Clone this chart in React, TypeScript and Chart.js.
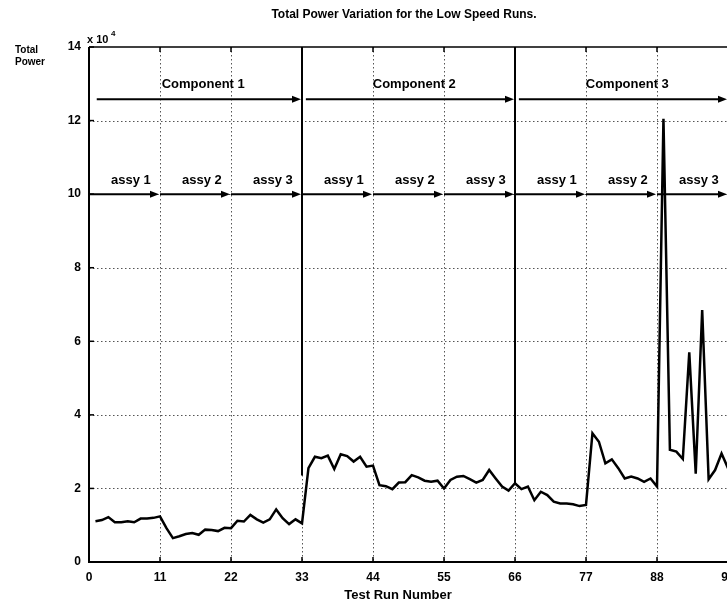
import React, { useEffect, useRef } from 'react';
import { Chart, registerables } from 'chart.js';

Chart.register(...registerables);

// ---- data (Total power, units of 1e4) ----
const runNumbers = [
  1, 2, 3, 4, 5, 6, 7, 8, 9, 10, 11, 12, 13, 14, 15, 16, 17, 18, 19, 20,
  21, 22, 23, 24, 25, 26, 27, 28, 29, 30, 31, 32, 33, 34, 35, 36, 37, 38, 39, 40,
  41, 42, 43, 44, 45, 46, 47, 48, 49, 50, 51, 52, 53, 54, 55, 56, 57, 58, 59, 60,
  61, 62, 63, 64, 65, 66, 67, 68, 69, 70, 71, 72, 73, 74, 75, 76, 77, 78, 79, 80,
  81, 82, 83, 84, 85, 86, 87, 88, 89, 90, 91, 92, 93, 94, 95, 96, 97, 98, 99,
];
const totalPower = [
  1.11, 1.14, 1.22, 1.08, 1.08, 1.11, 1.08, 1.18, 1.18, 1.2, 1.24, 0.92, 0.65, 0.7, 0.76, 0.79, 0.74, 0.88, 0.87, 0.84,
  0.93, 0.92, 1.12, 1.1, 1.28, 1.16, 1.07, 1.16, 1.43, 1.19, 1.03, 1.16, 1.05, 2.55, 2.86, 2.82, 2.89, 2.53, 2.93, 2.88,
  2.73, 2.86, 2.59, 2.62, 2.09, 2.06, 1.98, 2.16, 2.17, 2.36, 2.3, 2.21, 2.18, 2.21, 2.0, 2.23, 2.32, 2.34, 2.25, 2.16,
  2.23, 2.5, 2.27, 2.05, 1.94, 2.14, 1.98, 2.05, 1.68, 1.91, 1.82, 1.64, 1.59, 1.59, 1.57, 1.52, 1.55, 3.5, 3.27, 2.68,
  2.79, 2.55, 2.27, 2.32, 2.27, 2.18, 2.27, 2.05, 12.05, 3.05, 3.0, 2.8, 5.7, 2.4, 6.85, 2.25, 2.5, 2.95, 2.55,
];
const xTicks = [0, 11, 22, 33, 44, 55, 66, 77, 88, 99];
const yTicks = [0, 2, 4, 6, 8, 10, 12, 14];

const titleText = 'Total Power Variation for the Low Speed Runs.';
const xLabelText = 'Test Run Number';
const yLabelLines = ['Total', 'Power'];

// component annotation (runs)
const componentLabels = ['Component 1', 'Component 2', 'Component 3'];
const componentStarts = [1.2, 33.6, 66.6];
const componentEnds = [33, 66, 99];
const componentLevel = 12.58;
const componentLabelLevel = 12.97;

// assembly annotation (runs)
const assyLabels = ['assy 1', 'assy 2', 'assy 3', 'assy 1', 'assy 2', 'assy 3', 'assy 1', 'assy 2', 'assy 3'];
const assyStarts = [0, 11, 22, 33, 44, 55, 66, 77, 88];
const assyEnds = [11, 22, 33, 44, 55, 66, 77, 88, 99];
const assyLevel = 10;
const assyLabelLevel = 10.38;

// component separators (run, lower end of line)
const separatorRuns = [33, 66];
const separatorBottoms = [2.35, 2.15];

const FONT = "'Liberation Sans', Arial, Helvetica, sans-serif";

function arrow(ctx: CanvasRenderingContext2D, x1: number, x2: number, y: number) {
  ctx.beginPath();
  ctx.moveTo(x1, y);
  ctx.lineTo(x2 - 6, y);
  ctx.stroke();
  ctx.beginPath();
  ctx.moveTo(x2, y);
  ctx.lineTo(x2 - 9, y - 3.5);
  ctx.lineTo(x2 - 9, y + 3.5);
  ctx.closePath();
  ctx.fill();
}

const decor = {
  id: 'decor',
  beforeDatasetsDraw(chart: any) {
    const { ctx, chartArea: a, scales } = chart;
    const xs = scales.x;
    const ys = scales.y;
    ctx.save();
    // dotted grid
    ctx.strokeStyle = '#555';
    ctx.lineWidth = 1;
    ctx.setLineDash([1.5, 2.5]);
    xTicks.forEach((t) => {
      if (t <= 0 || t >= 99) return;
      const px = Math.round(xs.getPixelForValue(t)) + 0.5;
      ctx.beginPath();
      ctx.moveTo(px, a.top);
      ctx.lineTo(px, a.bottom);
      ctx.stroke();
    });
    yTicks.forEach((t) => {
      if (t <= 0 || t >= 14) return;
      const py = Math.round(ys.getPixelForValue(t)) + 0.5;
      ctx.beginPath();
      ctx.moveTo(a.left, py);
      ctx.lineTo(a.right, py);
      ctx.stroke();
    });
    ctx.setLineDash([]);

    // separators
    ctx.strokeStyle = '#000';
    ctx.lineWidth = 2;
    separatorRuns.forEach((r, i) => {
      const px = xs.getPixelForValue(r);
      ctx.beginPath();
      ctx.moveTo(px, a.top);
      ctx.lineTo(px, ys.getPixelForValue(separatorBottoms[i]));
      ctx.stroke();
    });

    // arrows
    ctx.fillStyle = '#000';
    ctx.lineWidth = 2;
    componentLabels.forEach((_, i) => {
      arrow(ctx, xs.getPixelForValue(componentStarts[i]), xs.getPixelForValue(componentEnds[i]) - 1, ys.getPixelForValue(componentLevel));
    });
    assyLabels.forEach((_, i) => {
      arrow(ctx, xs.getPixelForValue(assyStarts[i]), xs.getPixelForValue(assyEnds[i]) - 1, ys.getPixelForValue(assyLevel));
    });

    // labels
    ctx.textAlign = 'center';
    ctx.textBaseline = 'middle';
    ctx.font = `bold 13px ${FONT}`;
    componentLabels.forEach((lab, i) => {
      const c = (componentStarts[i] + componentEnds[i]) / 2 + 0.6;
      ctx.fillText(lab, xs.getPixelForValue(c), ys.getPixelForValue(componentLabelLevel));
    });
    assyLabels.forEach((lab, i) => {
      const c = (assyStarts[i] + assyEnds[i]) / 2 + 1;
      ctx.fillText(lab, xs.getPixelForValue(c), ys.getPixelForValue(assyLabelLevel));
    });
    ctx.restore();
  },
  afterDraw(chart: any) {
    const { ctx, chartArea: a, scales } = chart;
    const xs = scales.x;
    const ys = scales.y;
    ctx.save();
    ctx.strokeStyle = '#000';
    ctx.fillStyle = '#000';
    // axes box (right side lies beyond the visible page)
    ctx.lineWidth = 2;
    ctx.beginPath();
    ctx.moveTo(a.left, a.top);
    ctx.lineTo(a.left, a.bottom);
    ctx.lineTo(a.right + 6, a.bottom);
    ctx.stroke();
    ctx.lineWidth = 1.5;
    ctx.beginPath();
    ctx.moveTo(a.left, a.top);
    ctx.lineTo(a.right + 6, a.top);
    ctx.stroke();
    // inward tick marks
    ctx.lineWidth = 1.5;
    xTicks.forEach((t) => {
      const px = xs.getPixelForValue(t);
      ctx.beginPath();
      ctx.moveTo(px, a.bottom);
      ctx.lineTo(px, a.bottom - 5);
      ctx.moveTo(px, a.top);
      ctx.lineTo(px, a.top + 5);
      ctx.stroke();
    });
    yTicks.forEach((t) => {
      const py = ys.getPixelForValue(t);
      ctx.beginPath();
      ctx.moveTo(a.left, py);
      ctx.lineTo(a.left + 5, py);
      ctx.stroke();
    });

    // title
    ctx.textAlign = 'center';
    ctx.textBaseline = 'middle';
    ctx.font = `bold 12px ${FONT}`;
    ctx.fillText(titleText, 404, 15);
    // x label
    ctx.font = `bold 13px ${FONT}`;
    ctx.fillText(xLabelText, 398, 595);
    // y label
    ctx.textAlign = 'left';
    ctx.font = `bold 10px ${FONT}`;
    ctx.fillText(yLabelLines[0], 15, 50);
    ctx.fillText(yLabelLines[1], 15, 62);
    // exponent
    ctx.textBaseline = 'alphabetic';
    ctx.font = `bold 11px ${FONT}`;
    ctx.fillText('x 10', 87, 43);
    ctx.font = `bold 8px ${FONT}`;
    ctx.fillText('4', 111, 36);
    ctx.restore();
  },
};

export default function App() {
  const ref = useRef<HTMLCanvasElement | null>(null);
  useEffect(() => {
    if (!ref.current) return;
    const chart = new Chart(ref.current, {
      type: 'line',
      data: {
        datasets: [
          {
            label: 'Total Power',
            data: runNumbers.map((r, i) => ({ x: r, y: totalPower[i] })),
            borderColor: '#000',
            borderWidth: 2.5,
            pointRadius: 0,
            tension: 0,
            fill: false,
          },
        ],
      },
      options: {
        responsive: false,
        animation: false,
        layout: { padding: { left: 0, top: 47, right: 32, bottom: 0 } },
        plugins: {
          legend: { display: false },
          title: { display: false },
          tooltip: { enabled: false },
        },
        scales: {
          x: {
            type: 'linear',
            min: 0,
            max: 99,
            afterBuildTicks: (s: any) => {
              s.ticks = xTicks.map((v) => ({ value: v }));
            },
            afterFit: (s: any) => {
              s.height = 45;
            },
            grid: { display: false, drawTicks: false },
            border: { display: false },
            ticks: {
              padding: 8,
              color: '#000',
              autoSkip: false,
              maxRotation: 0,
              font: { family: FONT, size: 12, weight: 'bold' },
            },
          },
          y: {
            type: 'linear',
            min: 0,
            max: 14,
            afterBuildTicks: (s: any) => {
              s.ticks = yTicks.map((v) => ({ value: v }));
            },
            afterFit: (s: any) => {
              s.width = 89;
            },
            grid: { display: false, drawTicks: false },
            border: { display: false },
            ticks: {
              padding: 8,
              color: '#000',
              font: { family: FONT, size: 12, weight: 'bold' },
            },
          },
        },
      },
      plugins: [decor],
    } as any);
    return () => chart.destroy();
  }, []);
  return (
    <div
      style={{
        position: 'fixed',
        left: 0,
        top: 0,
        width: 727,
        height: 607,
        overflow: 'hidden',
        background: '#fff',
      }}
    >
      <canvas ref={ref} width={760} height={607} style={{ display: 'block' }} />
    </div>
  );
}
